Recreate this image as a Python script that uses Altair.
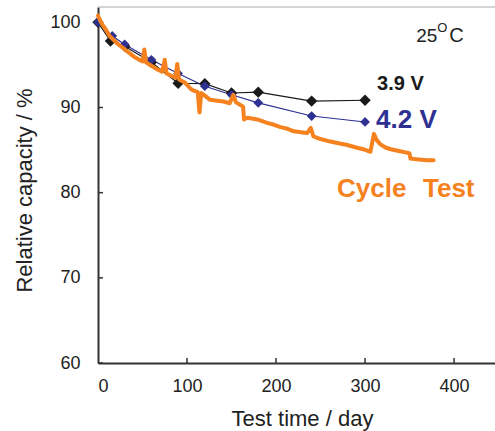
import altair as alt
import pandas as pd

FONT = "Liberation Sans"

# 3.9 V storage series
v39_day = [0, 14, 30, 60, 90, 120, 150, 180, 240, 300]
v39_cap = [100.0, 97.8, 97.2, 95.3, 92.85, 92.8, 91.7, 91.8, 90.75, 90.85]

# 4.2 V storage series
v42_day = [0, 16, 30, 60, 90, 120, 150, 180, 240, 300]
v42_cap = [100.0, 98.4, 97.4, 95.6, 94.0, 92.5, 91.5, 90.55, 89.0, 88.3]

# Cycle test series
cyc_day = [0, 2, 5, 8, 13, 18, 23, 28, 34, 40, 45, 50, 52, 54, 60, 66, 72, 75, 77,
           83, 87, 89, 91, 98, 104, 107, 112, 114, 116, 120, 126, 134, 141, 148,
           152, 155, 160, 163, 164, 168, 179, 190, 197, 205, 213, 220, 228, 235,
           239, 242, 250, 261, 270, 280, 290, 298, 306, 310, 313, 317, 323, 329,
           338, 347, 350, 351, 360, 370, 377]
cyc_cap = [100.8, 100.3, 99.7, 99.3, 98.4, 97.9, 97.4, 97.0, 96.5, 96.0, 95.7, 95.4,
           96.8, 95.3, 94.9, 94.5, 94.2, 95.6, 94.0, 93.7, 93.5, 95.1, 93.3, 92.9,
           92.2, 92.0, 91.8, 89.4, 91.7, 91.4, 90.9, 90.8, 90.7, 90.5, 91.5, 90.6,
           90.3, 90.1, 88.6, 88.8, 88.6, 88.2, 88.0, 87.7, 87.5, 87.2, 87.1, 87.0,
           87.6, 86.6, 86.3, 86.0, 85.8, 85.6, 85.3, 85.1, 84.8, 86.9, 86.2, 85.7,
           85.3, 85.1, 84.9, 84.7, 84.6, 84.0, 83.9, 83.8, 83.8]

# axis ticks
x_ticks = [0, 100, 200, 300, 400]
y_ticks = [60, 70, 80, 90, 100]

# annotations (label, day, capacity)
ann_39 = ("3.9 V", 313.5, 92.76)
ann_42 = ("4.2 V", 312.4, 88.53)
ann_cyc = ("Cycle\u00a0\u200a Test", 268.5, 80.43)
ann_25 = ("25", 357.5, 97.69)
ann_o = ("O", 381.0, 98.86)
ann_c = ("C", 394.5, 97.69)

XDOM = [0, 446]
YDOM = [60, 101.8]

xs = alt.Scale(domain=XDOM, nice=False, zero=False)
ys = alt.Scale(domain=YDOM, nice=False, zero=False)

df39 = pd.DataFrame({"day": v39_day, "cap": v39_cap})
df42 = pd.DataFrame({"day": v42_day, "cap": v42_cap})
dfc = pd.DataFrame({"day": cyc_day, "cap": cyc_cap})

x_axis = alt.Axis(values=x_ticks, title="Test time / day", grid=False, ticks=False,
                  labelFontSize=18, labelFont=FONT, labelColor="#222",
                  labelPadding=14, titleFont=FONT, titleFontSize=22,
                  titleFontWeight="normal", titleColor="#222",
                  titleX=204, titleY=62, titleBaseline="alphabetic",
                  domainColor="#333", domainWidth=2)
y_axis = alt.Axis(values=y_ticks, title="Relative capacity / %", grid=False, ticks=False,
                  labelFontSize=18, labelFont=FONT, labelColor="#222",
                  labelPadding=18, titleFont=FONT, titleFontSize=22,
                  titleFontWeight="normal", titleColor="#222",
                  titleX=-67, titleY=183, titleBaseline="alphabetic", titleAngle=-90,
                  titleAlign="center",
                  domainColor="#333", domainWidth=2)

BLACK = "#1a1a1a"
BLUE = "#2e3192"
ORANGE = "#f5821f"

axes_layer = alt.Chart(df39).mark_point(opacity=0).encode(
    x=alt.X("day:Q", scale=xs, axis=x_axis),
    y=alt.Y("cap:Q", scale=ys, axis=y_axis),
)

top_border = alt.Chart(pd.DataFrame({"v": [YDOM[1]]})).mark_rule(
    color="#aaaaaa", strokeWidth=1).encode(
    y=alt.Y("v:Q", scale=ys), x=alt.value(0), x2=alt.value(400))

ytick_layer = alt.Chart(pd.DataFrame({"v": y_ticks})).mark_rule(
    color="#333", strokeWidth=1.5).encode(
    y=alt.Y("v:Q", scale=ys), x=alt.value(0), x2=alt.value(5))

xtick_layer = alt.Chart(pd.DataFrame({"d": x_ticks[1:]})).mark_rule(
    color="#333", strokeWidth=1.5).encode(
    x=alt.X("d:Q", scale=xs), y=alt.value(356), y2=alt.value(351))

line39 = alt.Chart(df39).mark_line(color=BLACK, strokeWidth=1.2).encode(
    x=alt.X("day:Q", scale=xs), y=alt.Y("cap:Q", scale=ys))
pts39 = alt.Chart(df39).mark_point(shape="diamond", filled=True, color=BLACK,
                                   size=130, opacity=1).encode(
    x=alt.X("day:Q", scale=xs), y=alt.Y("cap:Q", scale=ys))

line42 = alt.Chart(df42).mark_line(color=BLUE, strokeWidth=1.2).encode(
    x=alt.X("day:Q", scale=xs), y=alt.Y("cap:Q", scale=ys))
pts42 = alt.Chart(df42).mark_point(shape="diamond", filled=True, color=BLUE,
                                   size=95, opacity=1).encode(
    x=alt.X("day:Q", scale=xs), y=alt.Y("cap:Q", scale=ys))

cyc_line = alt.Chart(dfc).mark_line(color=ORANGE, strokeWidth=4,
                                    strokeJoin="round", strokeCap="round").encode(
    x=alt.X("day:Q", scale=xs), y=alt.Y("cap:Q", scale=ys))


def text_layer(ann, size, color, bold, baseline):
    t, d, c = ann
    return alt.Chart(pd.DataFrame({"t": [t], "d": [d], "c": [c]})).mark_text(
        font=FONT, fontSize=size, color=color,
        fontWeight="bold" if bold else "normal",
        align="left", baseline=baseline).encode(
        x=alt.X("d:Q", scale=xs), y=alt.Y("c:Q", scale=ys), text="t:N")


texts = [
    text_layer(ann_39, 20, BLACK, True, "middle"),
    text_layer(ann_42, 26, BLUE, True, "middle"),
    text_layer(ann_cyc, 26, ORANGE, True, "middle"),
    text_layer(ann_25, 19, "#222", False, "alphabetic"),
    text_layer(ann_o, 13, "#222", False, "alphabetic"),
    text_layer(ann_c, 20, "#222", False, "alphabetic"),
]

chart = alt.layer(
    axes_layer, top_border, ytick_layer, xtick_layer,
    line39, line42, pts39, pts42, cyc_line, *texts
).properties(
    width=397, height=356,
    autosize=alt.AutoSizeParams(type="none"),
    padding={"left": 98, "top": 7, "right": 0, "bottom": 68},
    background="white",
).configure_view(stroke=None)

chart.save("out.html", embed_options={"renderer": "svg", "actions": False})
